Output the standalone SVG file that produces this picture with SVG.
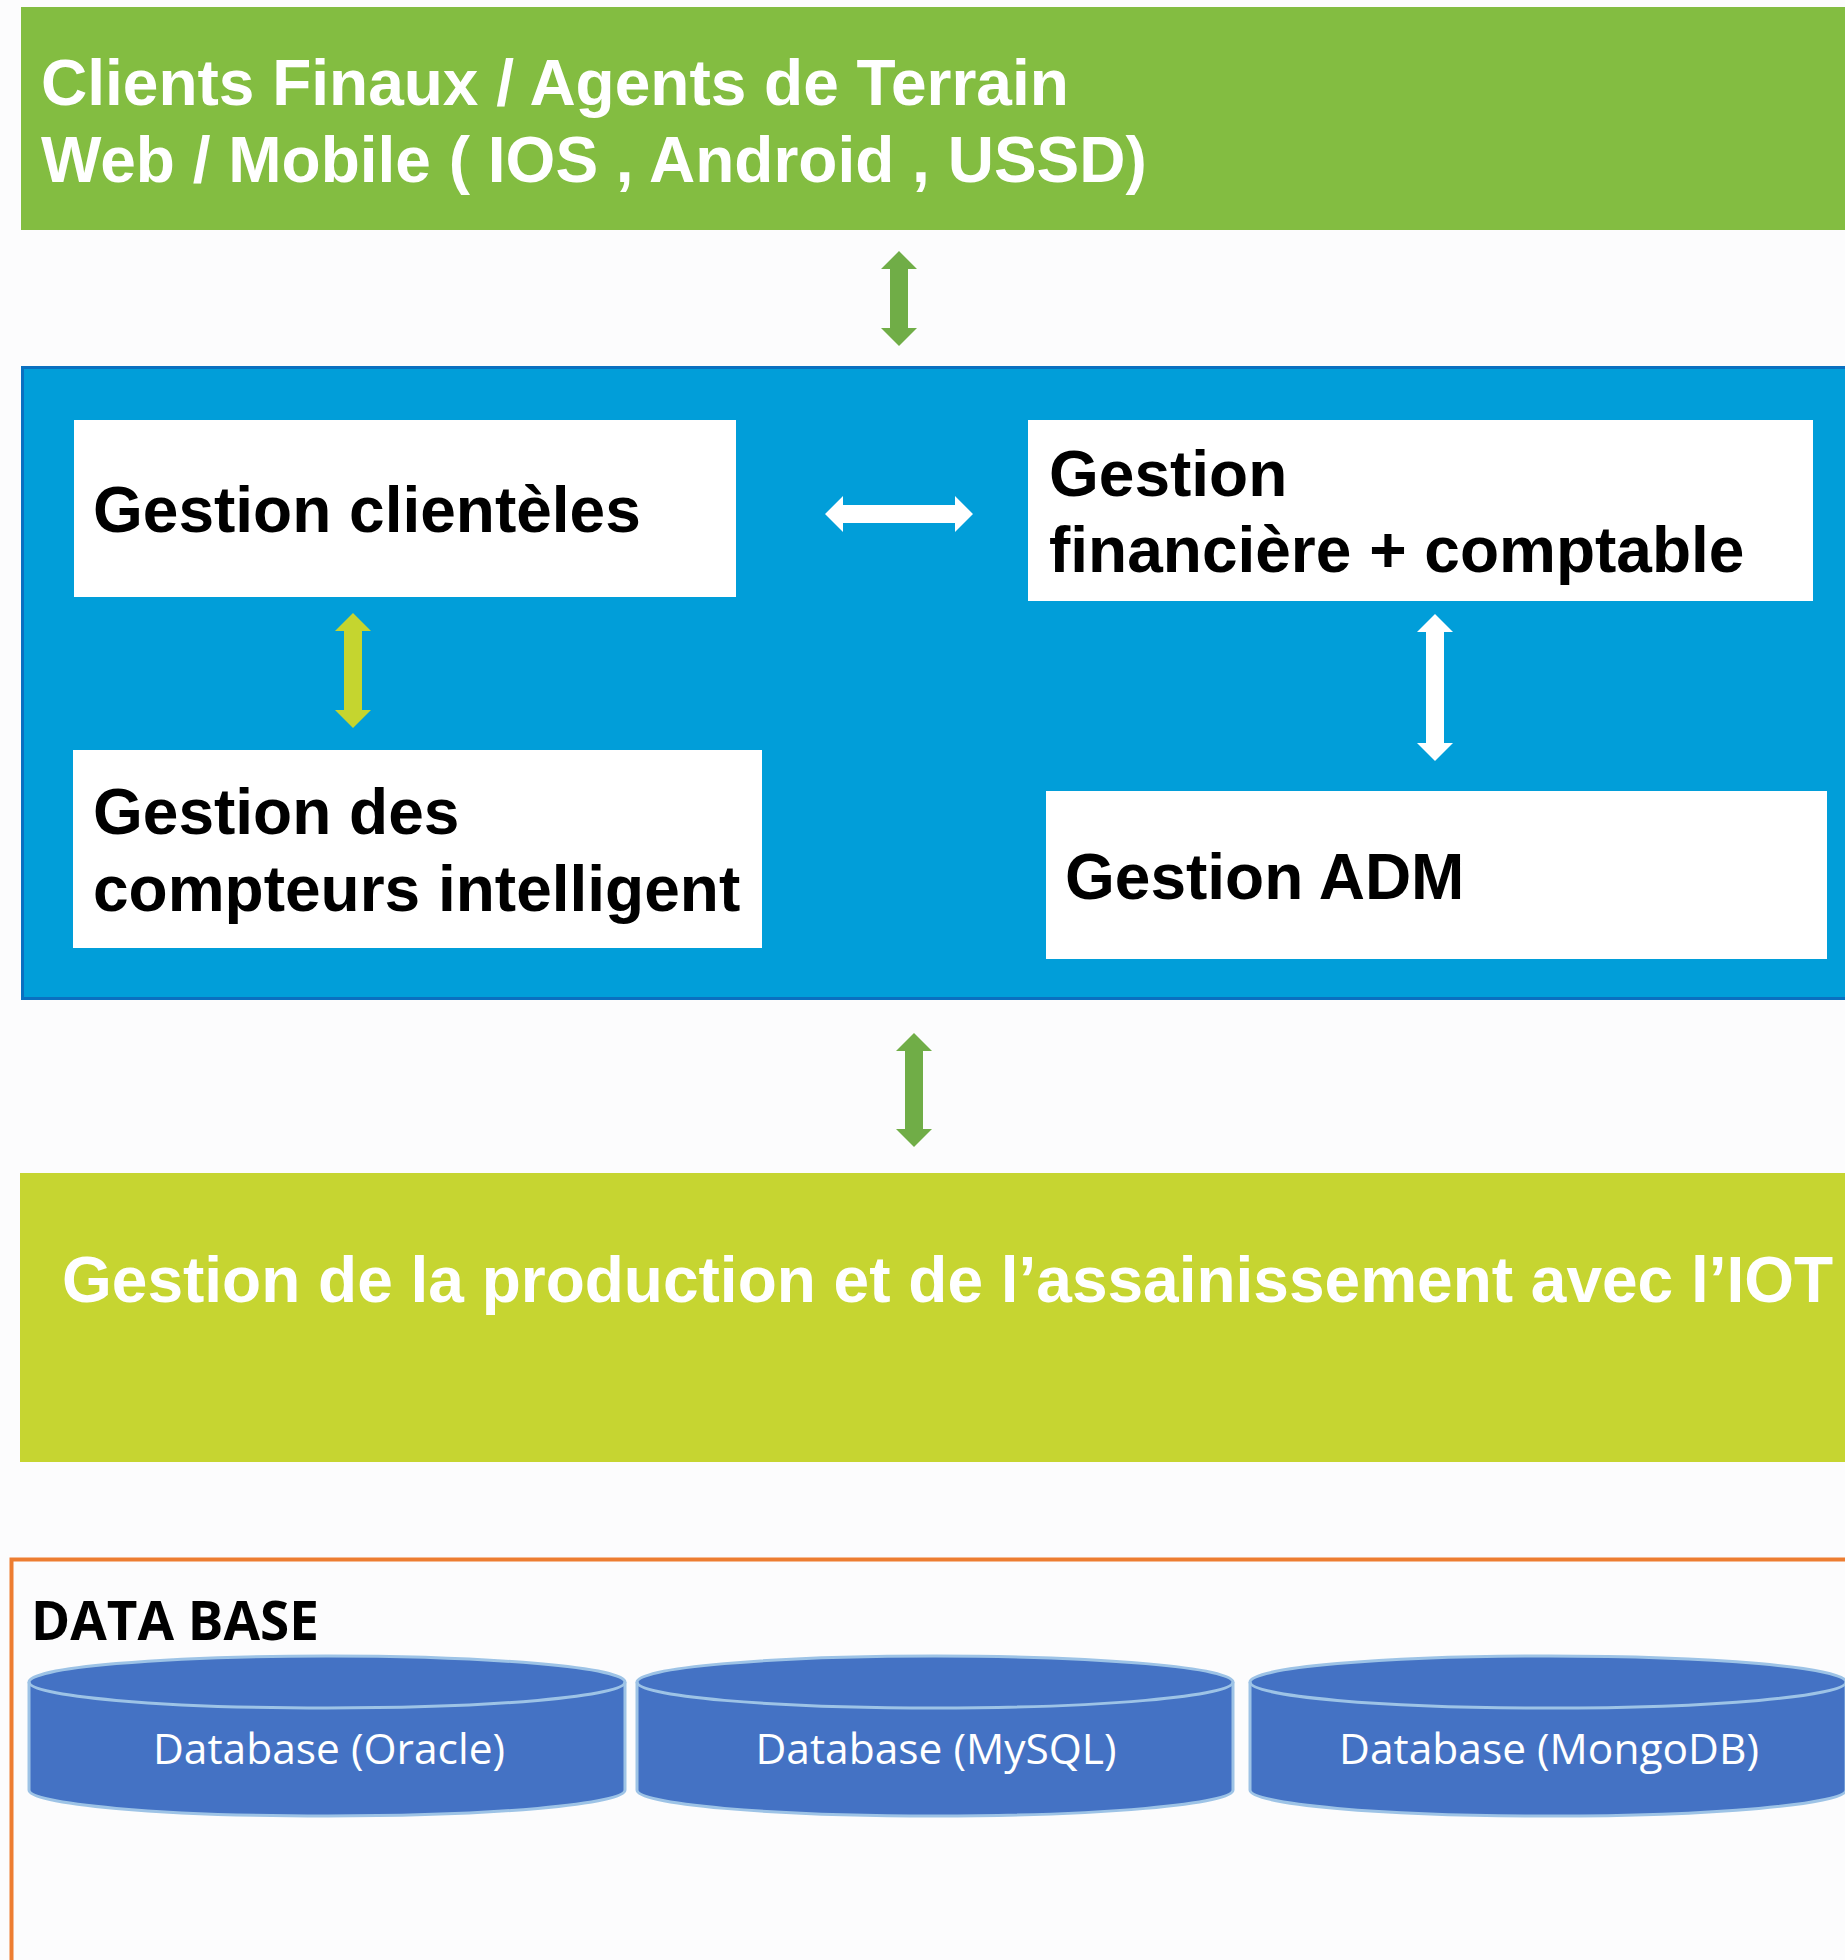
<svg xmlns="http://www.w3.org/2000/svg" width="1845" height="1960" viewBox="0 0 1845 1960">
  <style>
    .lbl { font-family: "Liberation Sans", Arial, sans-serif; font-weight: bold; font-size: 64px; }
    .white { fill: #ffffff; }
    .dark { fill: #000000; }
    .box { fill: #ffffff; }
    .db { fill: #4472C4; stroke: #9DC3E6; stroke-width: 3; }
    .dbtxt { font-family: "Open Sans", "Noto Sans", sans-serif; font-size: 42.5px; fill: #ffffff; text-anchor: middle; }
  </style>
  <rect x="0" y="0" width="1845" height="1960" fill="#fcfcfd"/>

  <g id="clients">
    <rect x="21" y="7" width="1824" height="223" fill="#83BD41"/>
    <text class="lbl white" x="41" y="105">Clients Finaux / Agents de Terrain</text>
    <text class="lbl white" x="41" y="182">Web / Mobile ( IOS , Android , USSD)</text>
  </g>

  <g id="gestion-container">
    <rect x="22.5" y="367.5" width="1830" height="631" fill="#019ED9" stroke="#0A70C0" stroke-width="3"/>
  </g>

  <g id="gestion-clienteles">
    <rect class="box" x="74" y="420" width="662" height="177"/>
    <text class="lbl dark" x="93" y="532">Gestion clientèles</text>
  </g>

  <g id="gestion-financiere">
    <rect class="box" x="1028" y="420" width="785" height="181"/>
    <text class="lbl dark" x="1049" y="496">Gestion</text>
    <text class="lbl dark" x="1049" y="572">financière + comptable</text>
  </g>

  <g id="gestion-compteurs">
    <rect class="box" x="73" y="750" width="689" height="198"/>
    <text class="lbl dark" x="93" y="834">Gestion des</text>
    <text class="lbl dark" x="93" y="911">compteurs intelligent</text>
  </g>

  <g id="gestion-adm">
    <rect class="box" x="1046" y="791" width="781" height="168"/>
    <text class="lbl dark" x="1065" y="899">Gestion ADM</text>
  </g>

  <g id="production-iot">
    <rect x="20" y="1173" width="1825" height="289" fill="#C6D531"/>
    <text class="lbl white" x="62" y="1302">Gestion de la production et de l’assainissement avec l’IOT</text>
  </g>

  <g id="database">
    <path d="M11.5,1960 L11.5,1559.5 L1845,1559.5" fill="none" stroke="#ED7D31" stroke-width="4"/>
    <text x="31" y="1640" font-family="'Open Sans', 'Noto Sans', sans-serif" font-weight="bold" font-size="53" fill="#000000">DATA BASE</text>
  </g>

  <g id="db-oracle">
    <path class="db" d="M29,1682 A298,26 0 0 1 625,1682 L625,1790 A298,26 0 0 1 29,1790 Z"/>
    <path d="M29,1682 A298,26 0 0 0 625,1682" fill="none" stroke="#9DC3E6" stroke-width="3"/>
    <text class="dbtxt" x="329" y="1764">Database (Oracle)</text>
  </g>

  <g id="db-mysql">
    <path class="db" d="M637,1682 A298,26 0 0 1 1233,1682 L1233,1790 A298,26 0 0 1 637,1790 Z"/>
    <path d="M637,1682 A298,26 0 0 0 1233,1682" fill="none" stroke="#9DC3E6" stroke-width="3"/>
    <text class="dbtxt" x="936" y="1764">Database (MySQL)</text>
  </g>

  <g id="db-mongodb">
    <path class="db" d="M1250,1682 A298,26 0 0 1 1846,1682 L1846,1790 A298,26 0 0 1 1250,1790 Z"/>
    <path d="M1250,1682 A298,26 0 0 0 1846,1682" fill="none" stroke="#9DC3E6" stroke-width="3"/>
    <text class="dbtxt" x="1549" y="1764">Database (MongoDB)</text>
  </g>

  <g id="connectors">
    <path fill="#70AD47" d="M899,251 L917,269 L908,269 L908,328 L917,328 L899,346 L881,328 L890,328 L890,269 L881,269 Z"/>
    <path fill="#FFFFFF" d="M825,514 L843,496 L843,505 L955,505 L955,496 L973,514 L955,532 L955,523 L843,523 L843,532 Z"/>
    <path fill="#C5D52F" d="M353,613 L371,631 L362,631 L362,710 L371,710 L353,728 L335,710 L344,710 L344,631 L335,631 Z"/>
    <path fill="#FFFFFF" d="M1435,614 L1453,632 L1444,632 L1444,743 L1453,743 L1435,761 L1417,743 L1426,743 L1426,632 L1417,632 Z"/>
    <path fill="#70AD47" d="M914,1033 L932,1051 L923,1051 L923,1129 L932,1129 L914,1147 L896,1129 L905,1129 L905,1051 L896,1051 Z"/>
  </g>
</svg>
